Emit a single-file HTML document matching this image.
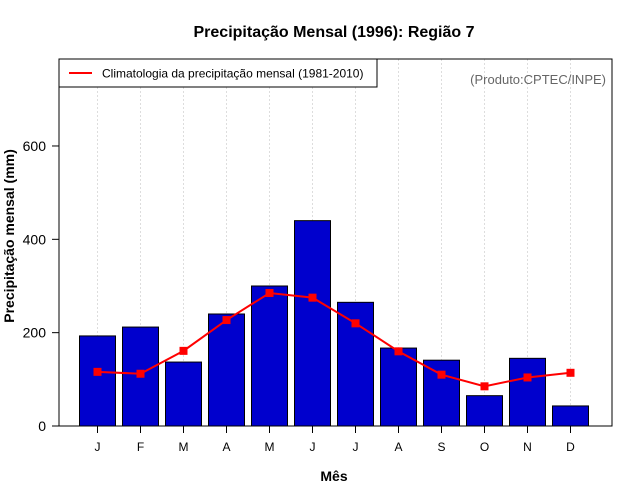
<!DOCTYPE html>
<html><head><meta charset="utf-8"><style>body{margin:0;background:#fff}svg{display:block;font-family:"Liberation Sans",sans-serif}</style></head>
<body>
<svg id="c" width="640" height="500"></svg>
<script>
const months=["J","F","M","A","M","J","J","A","S","O","N","D"];
const precip=[193,212,137,240,300,440,265,167,141,65,145,43];
const clim=[116,112,161,227,285,275,220,160,110,85,104,114];
const yTicks=[0,200,400,600];
const NS="http://www.w3.org/2000/svg";
const svg=document.getElementById('c');
function el(t,a,p){const e=document.createElementNS(NS,t);for(const k in a)e.setAttribute(k,a[k]);(p||svg).appendChild(e);return e;}
const y=v=>426-v*0.4667;
const x=i=>97.5+i*43;
// gridlines
months.forEach((m,i)=>{const g=el('line',{x1:x(i),x2:x(i),y1:59,y2:426,stroke:'#ddd','stroke-dasharray':'2,2'});

});
// bars
precip.forEach((v,i)=>{const b=el('rect',{x:x(i)-18,y:y(v),width:36,height:426-y(v),fill:'#0000CD',stroke:'#000','stroke-width':1});

});
// line
const pl=el('polyline',{points:clim.map((v,i)=>x(i)+','+y(v)).join(' '),fill:'none',stroke:'#f00','stroke-width':2});


clim.forEach((v,i)=>{const p=el('rect',{x:x(i)-4,y:y(v)-4,width:8,height:8,fill:'#f00'});

});
// box
const bx=el('rect',{x:59,y:59,width:553,height:367,fill:'none',stroke:'#000'});


// y ticks
yTicks.forEach(v=>{el('line',{x1:52,x2:59,y1:y(v),y2:y(v),stroke:'#000'});
const t=el('text',{x:46,y:y(v)+5,'text-anchor':'end','font-size':14});t.textContent=v;

});
// x ticks
months.forEach((m,i)=>{el('line',{x1:x(i),x2:x(i),y1:426,y2:433,stroke:'#000'});
const t=el('text',{x:x(i),y:451,'text-anchor':'middle','font-size':12});t.textContent=m;

});
</script>
<svg width="0" height="0"></svg>
<div style="position:absolute;left:0;top:0;width:640px;height:500px;pointer-events:none">
<svg width="640" height="500" style="font-family:'Liberation Sans',sans-serif">
<text x="334" y="37" text-anchor="middle" font-size="16" font-weight="bold">Precipitação Mensal (1996): Região 7</text>
<text x="334" y="481" text-anchor="middle" font-size="14" font-weight="bold">Mês</text>
<text transform="translate(14,236) rotate(-90)" text-anchor="middle" font-size="14" font-weight="bold">Precipitação mensal (mm)</text>
<text x="606" y="84" text-anchor="end" font-size="13" fill="#666">(Produto:CPTEC/INPE)</text>
<g>
<rect x="59" y="59" width="318" height="28" fill="#fff" stroke="#000"/>
<line x1="69" x2="92" y1="73" y2="73" stroke="#f00" stroke-width="2"/>
<text x="102" y="77.5" font-size="12">Climatologia da precipitação mensal (1981-2010)</text>
</g>
</svg></div>
</body></html>
